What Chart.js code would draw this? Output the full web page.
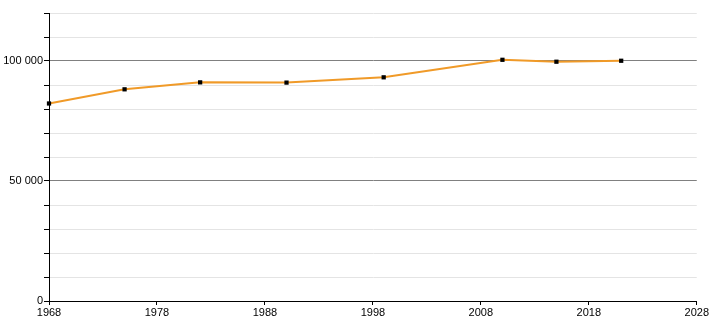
<!DOCTYPE html>
<html>
<head>
<meta charset="utf-8">
<script src="https://cdn.jsdelivr.net/npm/chart.js@4/dist/chart.umd.min.js"></script>
<style>
  html, body { margin: 0; padding: 0; background: #fff; }
  #c { display: block; }
</style>
</head>
<body>
<canvas id="c" width="710" height="320"></canvas>
<script>
/* population by census year */
const years  = [1968, 1975, 1982, 1990, 1999, 2010, 2015, 2021];
const values = [82300, 88200, 91100, 91000, 93200, 100500, 99700, 100100];

const X_MIN = 1968, X_MAX = 2028, X_STEP = 10;
const Y_MIN = 0, Y_MAX = 120000, Y_STEP = 10000, Y_MAJOR = 50000;

const fmt = v => String(v).replace(/\B(?=(\d{3})+(?!\d))/g, ' ');

new Chart(document.getElementById('c').getContext('2d'), {
  type: 'line',
  data: {
    datasets: [{
      data: years.map((y, i) => ({ x: y, y: values[i] })),
      borderColor: '#f09a28',
      borderWidth: 2,
      tension: 0,
      clip: false,
      pointStyle: 'rect',
      pointRadius: 3,
      pointBackgroundColor: '#000',
      pointBorderWidth: 0,
    }],
  },
  options: {
    responsive: false,
    animation: false,
    layout: { padding: { top: 13, right: 12, left: 0, bottom: 0 }, autoPadding: false },
    plugins: { legend: { display: false }, tooltip: { enabled: false } },
    scales: {
      x: {
        type: 'linear',
        min: X_MIN, max: X_MAX,
        afterFit: s => { s.height = 19; },
        ticks: {
          stepSize: X_STEP,
          color: '#000',
          padding: 1,
          maxRotation: 0,
          font: { family: 'Liberation Sans', size: 11 },
          callback: v => String(v),
        },
        grid: { drawOnChartArea: false, drawTicks: true, tickLength: 4, tickColor: '#000' },
        border: { color: '#000', width: 1 },
      },
      y: {
        min: Y_MIN, max: Y_MAX,
        afterFit: s => { s.width = 49; },
        ticks: {
          stepSize: Y_STEP,
          color: '#000',
          padding: 1,
          font: { family: 'Liberation Sans', size: 11 },
          callback: v => (v % Y_MAJOR === 0 ? fmt(v) : ''),
        },
        grid: {
          color: ctx => (ctx.tick && ctx.tick.value % Y_MAJOR === 0 ? '#808080' : '#e4e4e4'),
          tickColor: '#000',
          tickLength: 5,
          lineWidth: 1,
        },
        border: { color: '#000', width: 1 },
      },
    },
  },
});
</script>
</body>
</html>
